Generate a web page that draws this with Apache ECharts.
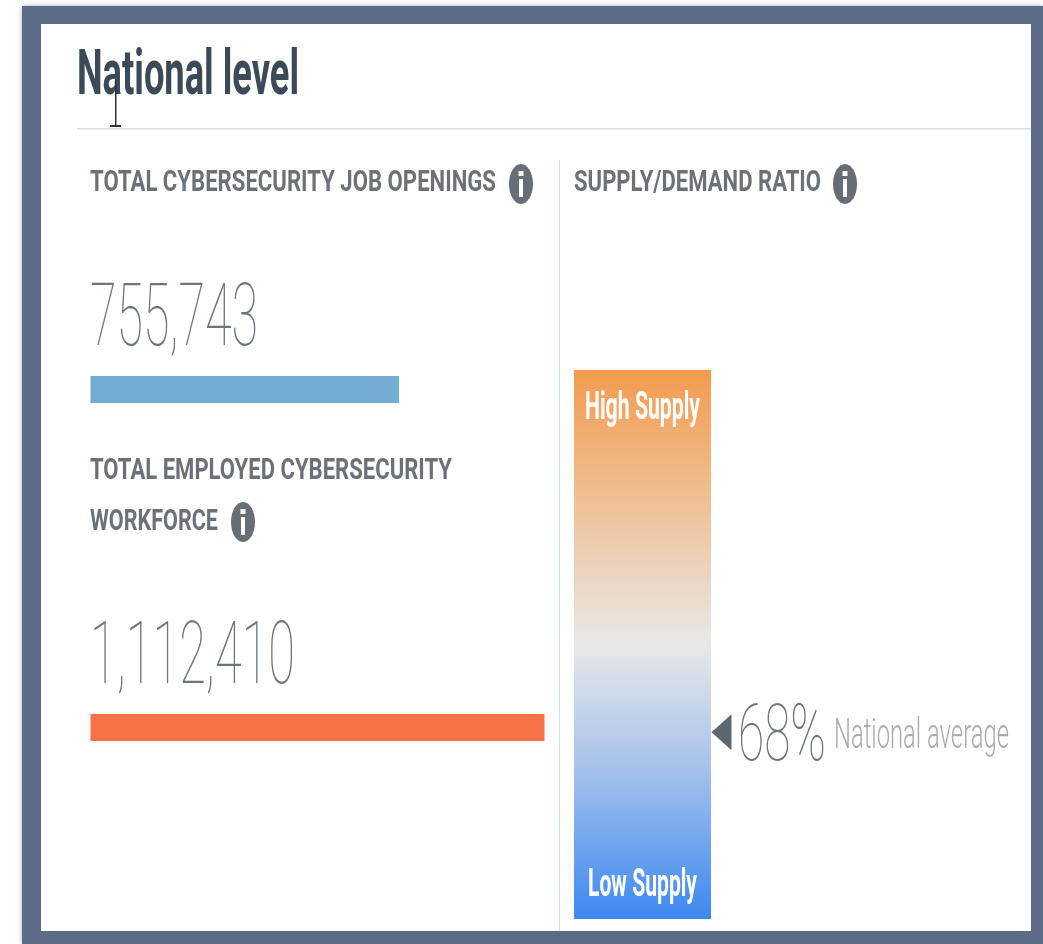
<!DOCTYPE html>
<html>
<head>
    <meta charset="utf-8">
    <title>National level</title>
    <script src="https://cdn.jsdelivr.net/npm/echarts@6/dist/echarts.min.js"></script>
    <style>
        html, body { margin: 0; padding: 0; background: #fff; }
        /* the reference is a soft, upscaled screenshot */
        #main { width: 1043px; height: 944px; filter: blur(0.5px); }
    </style>
</head>
<body>
<div id="main"></div>
<script>
    var pageTitle = 'National level';
    var categories = ['Job openings', 'Employed workforce'];
    var totals = [755743, 1112410];
    var barColors = ['#73acd3', '#f77346'];
    var ratioScale = [0, 200];
    var ratioCategory = ['Ratio'];
    var nationalAverage = [68];
    var headings = ['TOTAL CYBERSECURITY JOB OPENINGS', 'TOTAL EMPLOYED CYBERSECURITY', 'WORKFORCE', 'SUPPLY/DEMAND RATIO'];

    var fontName = 'Roboto, "Noto Sans", sans-serif';
    var measure = document.createElement('canvas').getContext('2d');

    // the picture is squeezed sideways, so every text is scaled to the width it has there
    // y is the baseline, the text box starts about 0.76 of the size above it
    function text(str, x, baseline, width, size, weight, color) {
        var font = weight + ' ' + size + 'px ' + fontName;
        measure.font = font;
        return {
            type: 'text',
            z: 100,
            x: x,
            y: baseline - size * 0.76,
            scaleX: width / measure.measureText(str).width,
            silent: true,
            style: { text: str, font: font, fill: color }
        };
    }

    function rect(x, y, w, h, color, z) {
        return { type: 'rect', z: z, silent: true, shape: { x: x, y: y, width: w, height: h }, style: { fill: color } };
    }

    function infoIcon(cx, cy) {
        return [
            { type: 'ellipse', z: 100, silent: true, shape: { cx: cx, cy: cy, rx: 12, ry: 20 }, style: { fill: '#676e76' } },
            rect(cx - 2.5, cy - 13, 5, 5, '#fff', 101),
            rect(cx - 2, cy - 5, 4, 18, '#fff', 101)
        ];
    }

    var graphics = [
        { type: 'rect', z: -3, silent: true, shape: { x: 22, y: 6, width: 1021, height: 938 }, style: { fill: '#5c6b87', shadowBlur: 5, shadowColor: 'rgba(0,0,0,0.3)' } },
        rect(41, 24, 990, 907, '#fff', -2),
        rect(77, 128, 954, 1.5, '#d5e0e6', -1),
        rect(559, 160, 1, 771, '#d5e0e6', -1),
        text(pageTitle, 77, 95, 222, 63, 700, '#3c4a58'),
        text(headings[0], 90, 191, 406, 30, 700, '#6c7177'),
        text(headings[1], 90, 479, 362, 30, 700, '#6c7177'),
        text(headings[2], 90, 530, 128, 30, 700, '#6c7177'),
        text(headings[3], 574, 191, 247, 30, 700, '#6c7177'),
        text(totals[0].toLocaleString('en-US'), 90, 346, 168, 87, 100, '#6e7479'),
        text(totals[1].toLocaleString('en-US'), 90, 684, 205, 87, 100, '#6e7479'),
        text('High Supply', 585, 419, 115, 38, 700, '#fff'),
        text('Low Supply', 588, 896, 109, 38, 700, '#fff'),
        text(nationalAverage[0] + '%', 738, 761, 88, 80, 100, '#6e7479'),
        text('National average', 834, 748, 175, 42, 300, '#a9adb2'),
        // text cursor left over the title
        rect(115, 80, 1.5, 46, '#333', 102),
        rect(110, 125, 11, 2, '#333', 102)
    ].concat(infoIcon(521, 184), infoIcon(845, 184), infoIcon(243, 522));

    var myChart = echarts.init(document.getElementById('main'));
    var option = {
        animation: false,
        graphic: graphics,
        grid: [
            { left: 90.5, top: 220.5, width: 454, height: 676 },
            { left: 574, top: 370, width: 137, height: 549 }
        ],
        xAxis: [
            { gridIndex: 0, type: 'value', min: 0, max: totals[1], show: false },
            { gridIndex: 1, type: 'category', data: ratioCategory, show: false }
        ],
        yAxis: [
            { gridIndex: 0, type: 'category', data: categories, inverse: true, show: false },
            { gridIndex: 1, type: 'value', min: ratioScale[0], max: ratioScale[1], show: false }
        ],
        series: [
            {
                name: 'Totals',
                type: 'bar',
                xAxisIndex: 0,
                yAxisIndex: 0,
                barWidth: 27,
                data: totals.map(function (v, i) {
                    return { value: v, itemStyle: { color: barColors[i] } };
                })
            },
            {
                name: 'Supply scale',
                type: 'bar',
                xAxisIndex: 1,
                yAxisIndex: 1,
                barWidth: 137,
                data: [ratioScale[1]],
                itemStyle: {
                    color: new echarts.graphic.LinearGradient(0, 0, 0, 1, [
                        { offset: 0, color: '#f39b4f' },
                        { offset: 0.25, color: '#efc298' },
                        { offset: 0.5, color: '#e8e8e8' },
                        { offset: 0.75, color: '#9dbdeb' },
                        { offset: 1, color: '#3c88f0' }
                    ])
                }
            },
            {
                name: 'National average',
                type: 'scatter',
                xAxisIndex: 1,
                yAxisIndex: 1,
                symbol: 'triangle',
                symbolSize: [36, 20],
                symbolRotate: 90,
                symbolOffset: [79, 0],
                itemStyle: { color: '#5e666e', opacity: 1 },
                data: nationalAverage,
                z: 5
            }
        ]
    };
    myChart.setOption(option);
</script>
</body>
</html>
